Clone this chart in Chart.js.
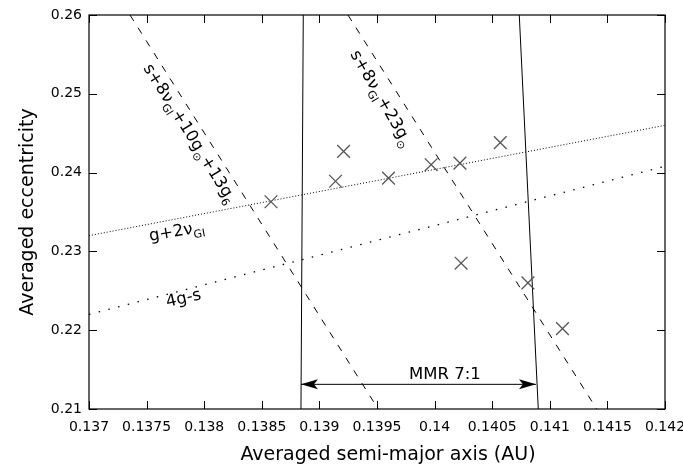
<!DOCTYPE html>
<html>
<head>
<meta charset="utf-8">
<script src="https://cdn.jsdelivr.net/npm/chart.js@4.4.0/dist/chart.umd.min.js"></script>
<style>
  html, body { margin: 0; padding: 0; background: #fff; }
  #wrap { width: 683px; height: 471px; }
</style>
</head>
<body>
<div id="wrap"><canvas id="myChart" width="683" height="471"></canvas></div>
<script>
// asteroid positions (a, e)
var xPts = [0.13858, 0.13914, 0.13921, 0.13960, 0.13997, 0.14022, 0.14057, 0.14023, 0.14081, 0.14111];
var yPts = [0.2363, 0.2389, 0.2427, 0.2393, 0.2410, 0.2412, 0.2438, 0.2285, 0.2260, 0.2202];

// resonance lines, [x0, x1] and [y0, y1]
var g2nuX = [0.137, 0.142],        g2nuY = [0.2320, 0.2460];
var g4sX = [0.137, 0.142],         g4sY = [0.2220, 0.2408];
var sec1X = [0.137356, 0.13951],   sec1Y = [0.26, 0.21];
var sec2X = [0.139248, 0.141407],  sec2Y = [0.26, 0.21];
var mmrLeftX = [0.13886, 0.13884], mmrLeftY = [0.26, 0.21];
var mmrRightX = [0.140735, 0.14090], mmrRightY = [0.26, 0.21];
var arrowX = [0.13884, 0.14088],   arrowY = [0.21313, 0.21313];

var xTicks = [0.137, 0.1375, 0.138, 0.1385, 0.139, 0.1395, 0.14, 0.1405, 0.141, 0.1415, 0.142];
var xTickLabels = ['0.137', '0.1375', '0.138', '0.1385', '0.139', '0.1395', '0.14', '0.1405', '0.141', '0.1415', '0.142'];
var yTicks = [0.21, 0.22, 0.23, 0.24, 0.25, 0.26];
var yTickLabels = ['0.21', '0.22', '0.23', '0.24', '0.25', '0.26'];

function pts(xs, ys) {
    return xs.map(function(x, i){ return {x: x, y: ys[i]}; });
}
function lineSet(xs, ys, dash, w) {
    return {
        data: pts(xs, ys),
        showLine: true,
        borderColor: '#000',
        borderWidth: w || 1,
        borderDash: dash,
        pointRadius: 0,
        fill: false
    };
}

var FONT = '"DejaVu Sans", sans-serif';

// text with subscripts: parts = [[text, isSub], ...]
function drawRich(ctx, parts, x, y, angle, size, align) {
    ctx.save();
    ctx.translate(x, y);
    ctx.rotate(angle * Math.PI / 180);
    ctx.fillStyle = '#000';
    ctx.textBaseline = 'alphabetic';
    var total = 0;
    parts.forEach(function(p){
        ctx.font = (p[1] ? Math.round(size * 0.68) : size) + 'px ' + FONT;
        total += ctx.measureText(p[0]).width;
    });
    var cx = align === 'center' ? -total / 2 : 0;
    parts.forEach(function(p){
        ctx.font = (p[1] ? Math.round(size * 0.68) : size) + 'px ' + FONT;
        ctx.fillText(p[0], cx, p[1] ? size * 0.3 : 0);
        cx += ctx.measureText(p[0]).width;
    });
    ctx.restore();
}

// annotations: [x, y, angle, parts, align]
var notes = [
    [0.13753, 0.23132, -10, [['g+2ν', 0], ['GI', 1]], 'left'],
    [0.13768, 0.22294, -13, [['4g-s', 0]], 'left'],
    [0.14009, 0.21381, 0, [['MMR 7:1', 0]], 'center'],
    [0.137469, 0.25327, 58, [['s+8ν', 0], ['GI', 1], ['+10g', 0], ['⊙', 1], ['+13g', 0], ['6', 1]], 'left'],
    [0.139266, 0.25505, 60, [['s+8ν', 0], ['GI', 1], ['+23g', 0], ['⊙', 1]], 'left']
];

var framePlugin = {
    id: 'frame',
    afterDatasetsDraw: function(chart) {
        var ctx = chart.ctx, a = chart.chartArea;
        var xs = chart.scales.x, ys = chart.scales.y;
        ctx.save();
        ctx.strokeStyle = '#000';
        ctx.lineWidth = 1;
        ctx.beginPath();
        // inward ticks on all four sides
        xTicks.forEach(function(v){
            var px = Math.round(xs.getPixelForValue(v)) + 0.5;
            ctx.moveTo(px, a.bottom); ctx.lineTo(px, a.bottom - 8);
            ctx.moveTo(px, a.top); ctx.lineTo(px, a.top + 8);
        });
        yTicks.forEach(function(v){
            var py = Math.round(ys.getPixelForValue(v)) + 0.5;
            ctx.moveTo(a.left, py); ctx.lineTo(a.left + 8, py);
            ctx.moveTo(a.right, py); ctx.lineTo(a.right - 8, py);
        });
        ctx.stroke();
        ctx.lineWidth = 1.2;
        ctx.strokeRect(a.left, a.top, a.right - a.left, a.bottom - a.top);

        // arrow heads of the MMR width
        var ay = ys.getPixelForValue(arrowY[0]);
        var lx = xs.getPixelForValue(arrowX[0]), rx = xs.getPixelForValue(arrowX[1]);
        ctx.fillStyle = '#000';
        ctx.beginPath();
        ctx.moveTo(lx, ay); ctx.lineTo(lx + 17, ay - 5); ctx.lineTo(lx + 13, ay); ctx.lineTo(lx + 17, ay + 5);
        ctx.closePath(); ctx.fill();
        ctx.beginPath();
        ctx.moveTo(rx, ay); ctx.lineTo(rx - 17, ay - 5); ctx.lineTo(rx - 13, ay); ctx.lineTo(rx - 17, ay + 5);
        ctx.closePath(); ctx.fill();

        notes.forEach(function(n){
            drawRich(ctx, n[3], xs.getPixelForValue(n[0]), ys.getPixelForValue(n[1]), n[2], 16.5, n[4]);
        });

        // x axis title (sits a little right of the plot centre in the original)
        ctx.font = '19px ' + FONT;
        ctx.textAlign = 'center';
        ctx.textBaseline = 'middle';
        ctx.fillText('Averaged semi-major axis (AU)', (a.left + a.right) / 2 + 11, 455);
        ctx.restore();
    }
};

var ctx = document.getElementById('myChart').getContext('2d');
var myChart = new Chart(ctx, {
    type: 'scatter',
    data: {
        datasets: [
            {
                data: pts(xPts, yPts),
                pointStyle: 'crossRot',
                pointRadius: 9,
                pointBorderColor: '#555',
                pointBorderWidth: 1.3,
                showLine: false
            },
            lineSet(g2nuX, g2nuY, [1, 2]),
            lineSet(g4sX, g4sY, [1.5, 8.5], 1.3),
            lineSet(sec1X, sec1Y, [7, 8]),
            lineSet(sec2X, sec2Y, [7, 8]),
            lineSet(mmrLeftX, mmrLeftY, []),
            lineSet(mmrRightX, mmrRightY, []),
            lineSet(arrowX, arrowY, [])
        ]
    },
    options: {
        responsive: false,
        animation: false,
        clip: true,
        layout: { padding: { top: 15, right: 18, left: 0, bottom: 0 } },
        plugins: { legend: { display: false }, tooltip: { enabled: false } },
        scales: {
            x: {
                type: 'linear',
                min: 0.137, max: 0.142,
                afterBuildTicks: function(s){ s.ticks = xTicks.map(function(v){ return {value: v}; }); },
                afterFit: function(s){ s.height = 62; s.paddingLeft = 0; s.paddingRight = 0; },
                grid: { display: false, drawTicks: false },
                border: { display: false },
                ticks: {
                    color: '#000',
                    font: { family: FONT, size: 14 },
                    padding: 10,
                    maxRotation: 0,
                    autoSkip: false,
                    callback: function(v){ return xTickLabels[xTicks.indexOf(v)]; }
                },
                title: { display: false }
            },
            y: {
                type: 'linear',
                min: 0.21, max: 0.26,
                afterBuildTicks: function(s){ s.ticks = yTicks.map(function(v){ return {value: v}; }); },
                afterFit: function(s){ s.width = 89; s.paddingTop = 0; s.paddingBottom = 0; },
                grid: { display: false, drawTicks: false },
                border: { display: false },
                ticks: {
                    color: '#000',
                    font: { family: FONT, size: 14 },
                    padding: 7,
                    autoSkip: false,
                    callback: function(v){ return yTickLabels[yTicks.indexOf(v)]; }
                },
                title: {
                    display: true,
                    text: 'Averaged eccentricity',
                    color: '#000',
                    font: { family: FONT, size: 19 },
                    padding: { top: 17, bottom: 0 }
                }
            }
        }
    },
    plugins: [framePlugin]
});
</script>
</body>
</html>
